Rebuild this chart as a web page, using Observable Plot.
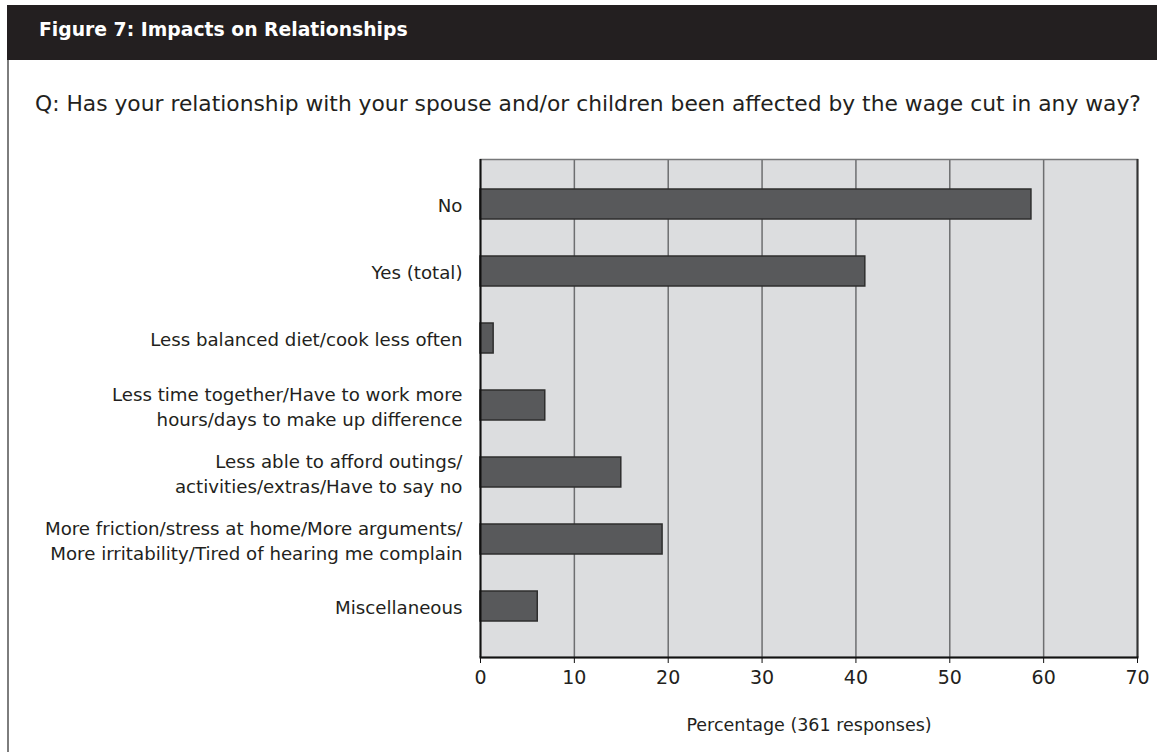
<!DOCTYPE html>
<html>
<head>
<meta charset="utf-8">
<script src="https://cdn.jsdelivr.net/npm/d3@7"></script>
<script src="https://cdn.jsdelivr.net/npm/@observablehq/plot@0.6"></script>
<style>
  html, body { margin: 0; padding: 0; background: #fff; }
  #page { position: relative; width: 1157px; height: 752px; overflow: hidden;
          font-family: "DejaVu Sans", sans-serif; color: #231f20; }
  #box { position: absolute; left: 7px; top: 5px; width: 1170px; height: 780px;
         border-left: 2px solid #7d7d7d; }
  #head { position: absolute; left: 7px; top: 5px; width: 1160px; height: 55px;
          background: #231f20; color: #fff; font-weight: bold; font-size: 18.8px;
          line-height: 49px; padding-left: 32px; box-sizing: border-box; white-space: nowrap; }
  #question { position: absolute; left: 35px; top: 93px; font-size: 21.8px; line-height: 21px;
              white-space: nowrap; }
  #chart { position: absolute; left: 0; top: 130px; }
</style>
</head>
<body>
<div id="page">
  <div id="box"></div>
  <div id="head">Figure 7: Impacts on Relationships</div>
  <div id="question">Q: Has your relationship with your spouse and/or children been affected by the wage cut in any way?</div>
  <div id="chart"></div>
</div>
<script>
// Survey answers, top to bottom
const categories = [
  "No",
  "Yes (total)",
  "Less balanced diet/cook less often",
  "Less time together/Have to work more\nhours/days to make up difference",
  "Less able to afford outings/\nactivities/extras/Have to say no",
  "More friction/stress at home/More arguments/\nMore irritability/Tired of hearing me complain",
  "Miscellaneous"
];
// Share of respondents (%)
const percentages = [58.7, 41.0, 1.4, 6.9, 15.0, 19.4, 6.1];
const xTicks = [0, 10, 20, 30, 40, 50, 60, 70];
const xLabel = "Percentage (361 responses)";

const rows = categories.map((c, i) => ({category: c, pct: percentages[i]}));

const chart = Plot.plot({
  width: 1157,
  height: 622,
  marginTop: 29,
  marginLeft: 480,
  marginRight: 20,
  marginBottom: 95,
  style: {fontFamily: "'DejaVu Sans', sans-serif", fontSize: "17px", color: "#231f20", background: "transparent"},
  x: {domain: [0, 70]},
  y: {domain: categories, paddingInner: 0.557, paddingOuter: 0.4, insetBottom: 7},
  marks: [
    Plot.frame({fill: "#dcdddf"}),
    Plot.ruleX(xTicks.slice(1, -1), {stroke: "#6d6e70", strokeWidth: 1.5}),
    Plot.frame({stroke: "#77787a", strokeWidth: 1.5}),
    Plot.ruleX([70], {stroke: "#333", strokeWidth: 2}),
    Plot.barX(rows, {x: "pct", y: "category", fill: "#58595b", stroke: "#2e2e2e", strokeWidth: 1.5}),
    Plot.ruleX([0], {stroke: "#111", strokeWidth: 2}),
    Plot.frame({anchor: "bottom", stroke: "#111", strokeWidth: 2}),
    Plot.axisY({tickSize: 0, tickPadding: 18, fontSize: 18.2, lineHeight: 1.35, label: null}),
    Plot.axisX({ticks: xTicks, tickSize: 6, tickPadding: 7, fontSize: 19, stroke: "#111", label: null}),
    // axis title, centred under the plot area
    Plot.text([xLabel], {frameAnchor: "bottom", dy: 68, lineAnchor: "middle", fontSize: 17.5, fill: "#231f20"})
  ]
});
document.getElementById("chart").appendChild(chart);
</script>
</body>
</html>
